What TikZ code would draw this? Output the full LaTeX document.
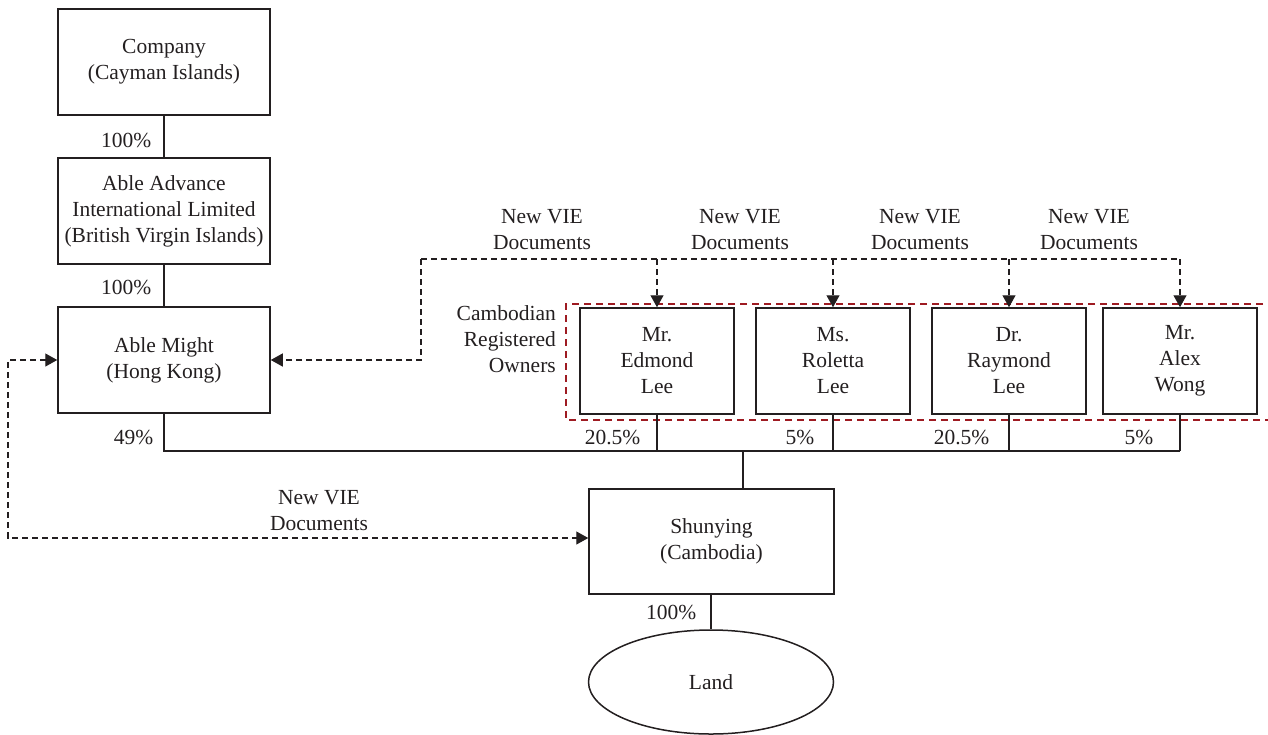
\documentclass[tikz,border=0pt]{standalone}
\usepackage{fontspec}
\setmainfont{Liberation Serif}
\usetikzlibrary{arrows.meta, positioning, shapes.geometric}
\definecolor{ink}{HTML}{231F20}
\definecolor{ownerred}{HTML}{9E1B22}

\begin{document}
\begin{tikzpicture}[x=1pt, y=-1pt,
  >={Triangle[length=12pt, width=13pt]},
  every node/.style={font=\fontsize{21.5}{26}\selectfont, text=ink},
  entity/.style={draw=ink, line width=1.5pt, minimum width=212pt, minimum height=106pt, align=center, inner sep=0pt},
  owner/.style={entity, minimum width=154pt},
  link/.style={draw=ink, line width=1.4pt},
  vie/.style={draw=ink, line width=1.3pt, dash pattern=on 6pt off 4pt, ->},
  vieline/.style={draw=ink, line width=1.3pt, dash pattern=on 6pt off 4pt},
  pct/.style={inner sep=0pt},
  note/.style={align=center, inner sep=0pt},
]
\useasboundingbox (0,0) rectangle (1268,734);

% holding chain
\node[entity] (company) at (164,62) {Company\\(Cayman Islands)};
\node[entity] (advance) at (164,211) {Able Advance\\International Limited\\(British Virgin Islands)};
\node[entity] (might) at (164,360) {Able Might\\(Hong Kong)};

% registered owners
\node[owner] (edmond) at (657,361) {Mr.\\Edmond\\Lee};
\node[owner] (roletta) at (833,361) {Ms.\\Roletta\\Lee};
\node[owner] (raymond) at (1009,361) {Dr.\\Raymond\\Lee};
\node[owner] (alex) at (1180,361) {Mr.\\Alex\\Wong};
\draw[ownerred, line width=1.2pt, dash pattern=on 7pt off 5pt] (1275,304) -| (566,420) -- (1275,420);
\node[note, align=right, anchor=east] (owners) at (556,339) {Cambodian\\Registered\\Owners};

\node[entity, minimum width=245pt, minimum height=105pt] (shunying) at (711.5,541.5) {Shunying\\(Cambodia)};
\node[ellipse, draw=ink, line width=1.5pt, minimum width=245pt, minimum height=104pt, inner sep=0pt] (land) at (711,682) {Land};

\coordinate (bus) at (743,451);
\coordinate (vietop) at (421,259);
\coordinate (loopcorner) at (8,538);

% ownership lines
\draw[link] (company) -- node[pct, left=12pt, pos=0.6] {100\%} (advance);
\draw[link] (advance) -- node[pct, left=12pt, pos=0.55] {100\%} (might);
\draw[link] (might.south) -- node[pct, left=10pt, pos=0.63] {49\%} (might.south |- bus) -- (bus -| alex.south);
\foreach \who/\share/\gap in {edmond/20.5/16, roletta/5/18, raymond/20.5/19, alex/5/26}
  \draw[link] (\who.south) -- node[pct, left=\gap pt, pos=0.62] {\share\%} (\who.south |- bus);
\draw[link] (bus) -- (bus |- shunying.north);
\draw[link] (land.north |- shunying.south) -- node[pct, left=14pt] {100\%} (land.north);

% VIE documents
\draw[vie] (vietop) |- (might.east);
\draw[vieline] (vietop) -- (vietop -| alex.north);
\foreach \who in {edmond, roletta, raymond, alex}
  \draw[vie] (vietop -| \who.north) -- (\who.north);
\foreach \i/\x in {1/542, 2/740, 3/920, 4/1089}
  \node[note] (vie\i) at (\x,229.5) {New VIE\\Documents};
\draw[vie, <->] (might.west) -| (loopcorner) -- (loopcorner -| shunying.west);
\node[note] (viebottom) at (319,511) {New VIE\\Documents};
\end{tikzpicture}
\end{document}
